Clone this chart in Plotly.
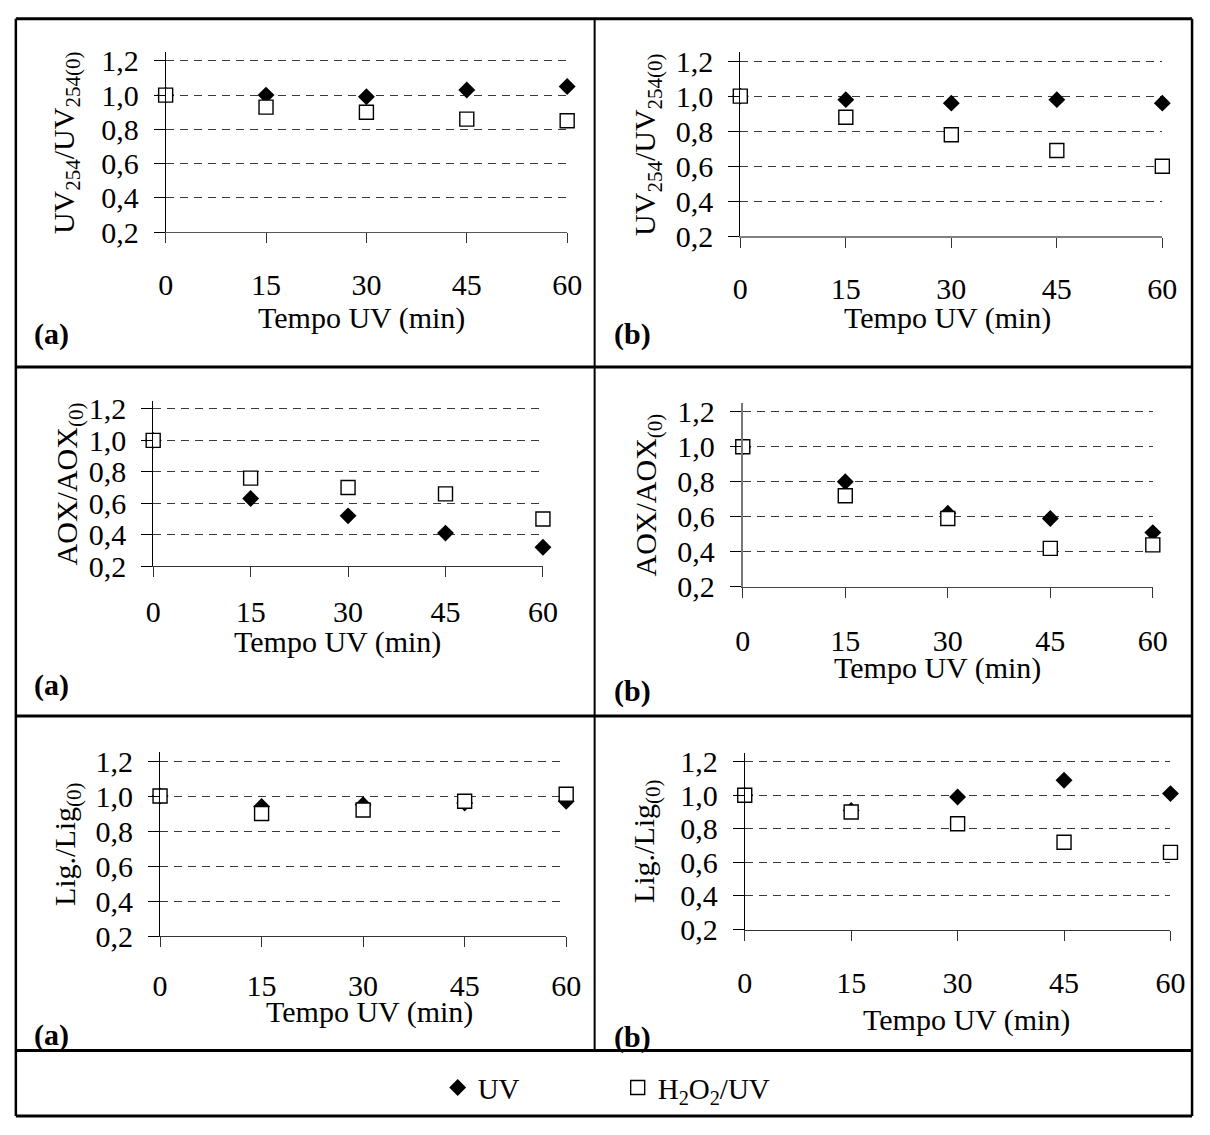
import plotly.graph_objects as go

W, H = 1210, 1135
FONT = "Liberation Serif, Times New Roman, serif"

# ---------------- data ----------------
times = [0, 15, 30, 45, 60]
x_ticks = [0, 15, 30, 45, 60]
y_ticks = [0.2, 0.4, 0.6, 0.8, 1.0, 1.2]
y_tick_labels = ["0,2", "0,4", "0,6", "0,8", "1,0", "1,2"]

uv254_a_uv = [1.00, 1.00, 0.99, 1.03, 1.05]
uv254_a_h2o2 = [1.00, 0.93, 0.90, 0.86, 0.85]
uv254_b_uv = [1.00, 0.98, 0.96, 0.98, 0.96]
uv254_b_h2o2 = [1.00, 0.88, 0.78, 0.69, 0.60]
aox_a_uv = [1.00, 0.63, 0.52, 0.41, 0.32]
aox_a_h2o2 = [1.00, 0.76, 0.70, 0.66, 0.50]
aox_b_uv = [1.00, 0.80, 0.62, 0.59, 0.51]
aox_b_h2o2 = [1.00, 0.72, 0.59, 0.42, 0.44]
lig_a_uv = [1.00, 0.94, 0.95, 0.96, 0.97]
lig_a_h2o2 = [1.00, 0.90, 0.92, 0.97, 1.01]
lig_b_uv = [1.00, 0.91, 0.99, 1.09, 1.01]
lig_b_h2o2 = [1.00, 0.90, 0.83, 0.72, 0.66]

y_titles = ["UV<sub>254</sub>/UV<sub>254(0)</sub>", "UV<sub>254</sub>/UV<sub>254(0)</sub>",
            "AOX/AOX<sub>(0)</sub>", "AOX/AOX<sub>(0)</sub>",
            "Lig./Lig<sub>(0)</sub>", "Lig./Lig<sub>(0)</sub>"]
x_title = "Tempo UV (min)"
panel_tags = ["(a)", "(b)", "(a)", "(b)", "(a)", "(b)"]
series_names = ["UV", "H<sub>2</sub>O<sub>2</sub>/UV"]

series = [
    (uv254_a_uv, uv254_a_h2o2), (uv254_b_uv, uv254_b_h2o2),
    (aox_a_uv, aox_a_h2o2), (aox_b_uv, aox_b_h2o2),
    (lig_a_uv, lig_a_h2o2), (lig_b_uv, lig_b_h2o2),
]

# ---------------- layout (pixel geometry) ----------------
# x0/x60: pixel x of t=0 and t=60 ; y02/y12: pixel y of 0.2 and 1.2
panels = [
    dict(x0=160.7, x60=570.0, y02=229.3, y12=54.0, xlab=283.0, xt=(360.5, 317.0), yt=59, tag=(24, 333),
         xline=("#555", 1.2), yline=("black", 1)),
    dict(x0=746.5, x60=1176.7, y02=233.5, y12=54.3, xlab=286.7, xt=(958.0, 316.7), yt=652, tag=(616, 333),
         xline=("#808080", 2), yline=("black", 1)),
    dict(x0=148.0, x60=545.3, y02=570.7, y12=410.0, xlab=618.0, xt=(336.0, 648.0), yt=62, tag=(24, 692),
         xline=("#333", 1.2), yline=("black", 1)),
    dict(x0=749.0, x60=1167.0, y02=592.0, y12=412.7, xlab=646.7, xt=(948.0, 675.0), yt=652, tag=(616, 698),
         xline=("#444", 1.4), yline=("#777", 2)),
    dict(x0=155.0, x60=569.0, y02=949.0, y12=770.0, xlab=1000.0, xt=(369.0, 1026.7), yt=60, tag=(24, 1050),
         xline=("#333", 1.2), yline=("black", 1)),
    dict(x0=751.0, x60=1185.0, y02=942.3, y12=770.7, xlab=996.7, xt=(977.0, 1035.0), yt=651, tag=(616, 1052),
         xline=("#333", 1.2), yline=("black", 1)),
]
YMAX = 1.25

fig = go.Figure()
annotations = []
layout_axes = {}

for i, (p, (uv, hu)) in enumerate(zip(panels, series)):
    k = i + 1
    xa = "x" if k == 1 else f"x{k}"
    ya = "y" if k == 1 else f"y{k}"
    fig.add_trace(go.Scatter(
        x=times, y=uv, mode="markers", name=series_names[0], xaxis=xa, yaxis=ya,
        marker=dict(symbol="diamond", size=13, color="black", line=dict(width=0)),
        cliponaxis=False, showlegend=(k == 1), legendrank=1))
    fig.add_trace(go.Scatter(
        x=times, y=hu, mode="markers", name=series_names[1], xaxis=xa, yaxis=ya,
        marker=dict(symbol="square", size=14, color="white", line=dict(width=1.4, color="black")),
        cliponaxis=False, showlegend=(k == 1), legendrank=2))

    unit = p["y02"] - p["y12"]
    ytop = p["y02"] - (YMAX - 0.2) * unit
    xdom = [p["x0"] / W, p["x60"] / W]
    ydom = [1 - p["y02"] / H, 1 - ytop / H]
    xstand = (p["xlab"] - p["y02"]) - 10 - 3 - 14 - 11

    layout_axes[f"xaxis{k}"] = dict(
        domain=xdom, range=[0, 60], anchor=ya, tickmode="array", tickvals=x_ticks,
        ticks="outside", ticklen=10, tickwidth=1, tickcolor="#333",
        showline=True, linecolor=p["xline"][0], linewidth=p["xline"][1], showgrid=False, zeroline=False,
        tickfont=dict(family=FONT, size=30, color="black"), ticklabelstandoff=max(0, int(round(xstand))),
        fixedrange=True)
    layout_axes[f"yaxis{k}"] = dict(
        domain=ydom, range=[0.2, YMAX], anchor=xa, tickmode="array", tickvals=y_ticks,
        ticktext=y_tick_labels, ticks="outside", ticklen=11, tickwidth=1, tickcolor="black",
        showline=True, linecolor=p["yline"][0], linewidth=p["yline"][1], showgrid=True, gridcolor="#3a3a3a",
        gridwidth=1, griddash="8px,6px", zeroline=False,
        tickfont=dict(family=FONT, size=30, color="black"), ticklabelstandoff=9,
        fixedrange=True)

    annotations.append(dict(text=x_title, x=p["xt"][0] / W, y=1 - p["xt"][1] / H, xref="paper", yref="paper",
                            xanchor="center", yanchor="middle", showarrow=False,
                            font=dict(family=FONT, size=30, color="black")))
    annotations.append(dict(text=y_titles[i], x=p["yt"] / W, y=1 - (p["y02"] + ytop) / 2 / H,
                            xref="paper", yref="paper", xanchor="center", yanchor="middle",
                            textangle=-90, showarrow=False,
                            font=dict(family=FONT, size=30, color="black")))
    annotations.append(dict(text="<b>" + panel_tags[i] + "</b>", x=p["tag"][0] / W, y=1 - p["tag"][1] / H,
                            xref="paper", yref="paper", xanchor="left", yanchor="middle", showarrow=False,
                            font=dict(family=FONT, size=30, color="black")))

# ---------------- table borders ----------------
shapes = []
def hline(y, x0=8, x1=1207, w=3):
    shapes.append(dict(type="line", xref="paper", yref="paper", x0=x0 / W, x1=x1 / W,
                       y0=1 - y / H, y1=1 - y / H, line=dict(color="black", width=w)))
def vline(x, y0, y1, w=2.5):
    shapes.append(dict(type="line", xref="paper", yref="paper", x0=x / W, x1=x / W,
                       y0=1 - y0 / H, y1=1 - y1 / H, line=dict(color="black", width=w)))

hline(11); hline(1133); hline(367); hline(724); hline(1066)
vline(8, 11, 1133); vline(1207, 11, 1133); vline(598, 11, 1066, w=2)

fig.update_layout(
    width=W, height=H, margin=dict(l=0, r=0, t=0, b=0),
    paper_bgcolor="white", plot_bgcolor="white",
    font=dict(family=FONT, size=30, color="black"),
    showlegend=True,
    legend=dict(orientation="h", x=438 / W, xanchor="left", y=1 - 1104 / H, yanchor="middle",
                font=dict(family=FONT, size=29, color="black"), entrywidth=135,
                bgcolor="rgba(0,0,0,0)", traceorder="normal"),
    annotations=annotations, shapes=shapes,
    **layout_axes,
)

fig.write_html("out.html", config={"displayModeBar": False},
               post_script="document.body.style.margin='0px';document.body.style.overflow='hidden';")
